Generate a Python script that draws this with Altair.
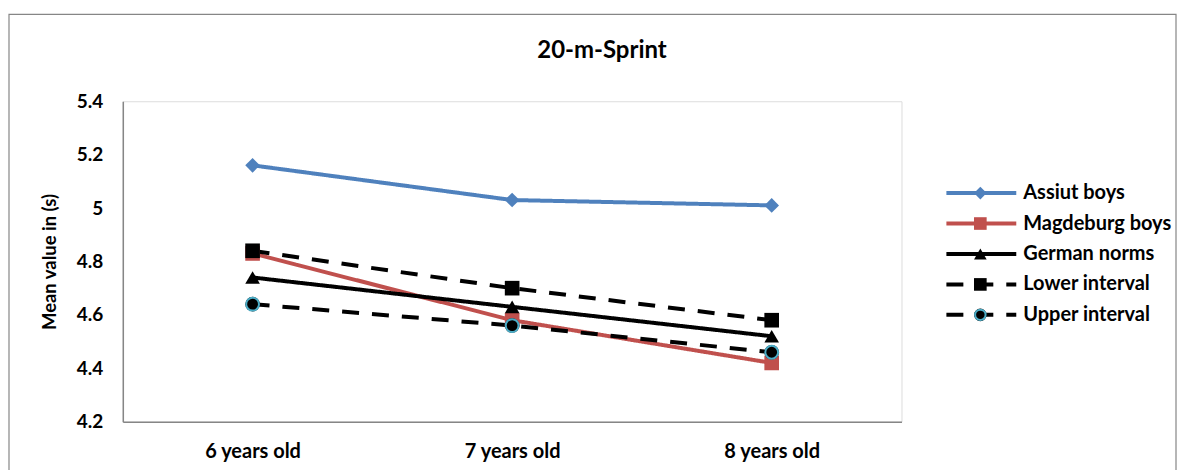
import altair as alt
import pandas as pd

categories = ["6 years old", "7 years old", "8 years old"]
series_names = ["Assiut boys", "Magdeburg boys", "German norms", "Lower interval", "Upper interval"]
assiut = [5.16, 5.03, 5.01]
magdeburg = [4.83, 4.58, 4.42]
german = [4.74, 4.63, 4.52]
lower = [4.84, 4.70, 4.58]
upper = [4.64, 4.56, 4.46]
y_ticks = [4.2, 4.4, 4.6, 4.8, 5.0, 5.2, 5.4]

colors = ["#4F81BD", "#C0504D", "#000000", "#000000", "#000000"]
widths = [4, 4, 3, 3, 3]
dashes = [[1, 0], [1, 0], [1, 0], [17, 13], [17, 13]]
legend_dashes = [[1, 0], [1, 0], [1, 0], [9, 21, 19, 15, 6, 100], [9, 21, 19, 15, 6, 100]]
shapes = ["diamond", "square", "triangle-up", "square", "circle"]

rows = []
for name, vals in zip(series_names, [assiut, magdeburg, german, lower, upper]):
    for cat, v in zip(categories, vals):
        rows.append({"age": cat, "series": name, "value": v})
df = pd.DataFrame(rows)
legend_df = pd.DataFrame({"series": series_names})

FONT = "Lato"
AXIS_GREY = "#868686"
CYAN = "#4BACC6"

color_scale = alt.Scale(domain=series_names, range=colors)
shape_scale = alt.Scale(domain=series_names, range=shapes)
width_scale = alt.Scale(domain=series_names, range=widths)

x_enc = alt.X(
    "age:N",
    sort=categories,
    scale=alt.Scale(type="point", domain=categories, padding=0.5),
    axis=alt.Axis(
        title=None, labelAngle=0, ticks=False, labelPadding=20,
        labelFont=FONT, labelFontSize=20, labelFontWeight="bold", labelColor="#000",
        domainColor=AXIS_GREY, domainWidth=1.5,
    ),
)
y_enc = alt.Y(
    "value:Q",
    scale=alt.Scale(domain=[4.2, 5.4], nice=False, zero=False),
    axis=alt.Axis(
        title="Mean value in (s)", values=y_ticks, format="~g", grid=False, ticks=False,
        labelPadding=20, labelFont=FONT, labelFontSize=19, labelFontWeight="bold",
        labelColor="#000", titleFont=FONT, titleFontSize=18.5, titleFontWeight="bold",
        titleColor="#000", titlePadding=17, domainColor=AXIS_GREY, domainWidth=1.5,
    ),
)

base = alt.Chart(df)

lines = base.mark_line().encode(
    x=x_enc,
    y=y_enc,
    color=alt.Color("series:N", scale=color_scale, legend=None),
    strokeDash=alt.StrokeDash("series:N", scale=alt.Scale(domain=series_names, range=dashes), legend=None),
    strokeWidth=alt.StrokeWidth("series:N", scale=width_scale, legend=None),
    detail="series:N",
)

points = base.mark_point(filled=True, size=215, opacity=1).encode(
    x=x_enc,
    y=y_enc,
    color=alt.Color("series:N", scale=color_scale, legend=None),
    shape=alt.Shape("series:N", scale=shape_scale, legend=None),
)

upper_pts = base.transform_filter(alt.datum.series == "Upper interval").mark_point(
    filled=True, shape="circle", size=165, fill="#000", stroke=CYAN, strokeWidth=2, opacity=1
).encode(x=x_enc, y=y_enc)

main = alt.layer(lines, points, upper_pts)

# legend drawn from the series list
leg_y = alt.Y("series:N", sort=series_names,
              scale=alt.Scale(type="point", domain=series_names, range=[92, 214], padding=0),
              axis=None)
leg_base = alt.Chart(legend_df)
leg_lines = leg_base.mark_rule().encode(
    x=alt.value(825), x2=alt.value(895), y=leg_y,
    color=alt.Color("series:N", scale=color_scale, legend=None),
    strokeDash=alt.StrokeDash("series:N", scale=alt.Scale(domain=series_names, range=legend_dashes), legend=None),
    strokeWidth=alt.StrokeWidth("series:N", scale=width_scale, legend=None),
)
leg_pts = leg_base.mark_point(filled=True, size=160, opacity=1).encode(
    x=alt.value(859), y=leg_y,
    color=alt.Color("series:N", scale=color_scale, legend=None),
    shape=alt.Shape("series:N", scale=shape_scale, legend=None),
)
leg_upper = leg_base.transform_filter(alt.datum.series == "Upper interval").mark_point(
    filled=True, shape="circle", size=110, fill="#000", stroke=CYAN, strokeWidth=2, opacity=1
).encode(x=alt.value(859), y=leg_y)
leg_text = leg_base.mark_text(
    align="left", baseline="middle", font=FONT, fontSize=20, fontWeight="bold", color="#000"
).encode(x=alt.value(902), y=leg_y, text="series:N")

legend = alt.layer(leg_lines, leg_pts, leg_upper, leg_text)

frame = alt.Chart(alt.Data(values=[{"f": 1}])).mark_rect(
    fillOpacity=0, stroke=AXIS_GREY, strokeWidth=1.2
).encode(
    x=alt.value(-114), x2=alt.value(1055), y=alt.value(-87), y2=alt.value(420)
)

chart = alt.layer(frame, main, legend).resolve_scale(
    y="independent"
).properties(
    width=780,
    height=321,
    title=alt.TitleParams(
        "20-m-Sprint", font=FONT, fontSize=24, fontWeight="bold", color="#000",
        anchor="middle", baseline="alphabetic", dx=90, offset=-68,
    ),
    autosize=alt.AutoSizeParams(type="none"),
    padding={"left": 115, "top": 93, "right": 276, "bottom": 48},
).configure_view(stroke=None).configure(background="white")

chart.save("out.html", embed_options={"renderer": "svg", "actions": False})
